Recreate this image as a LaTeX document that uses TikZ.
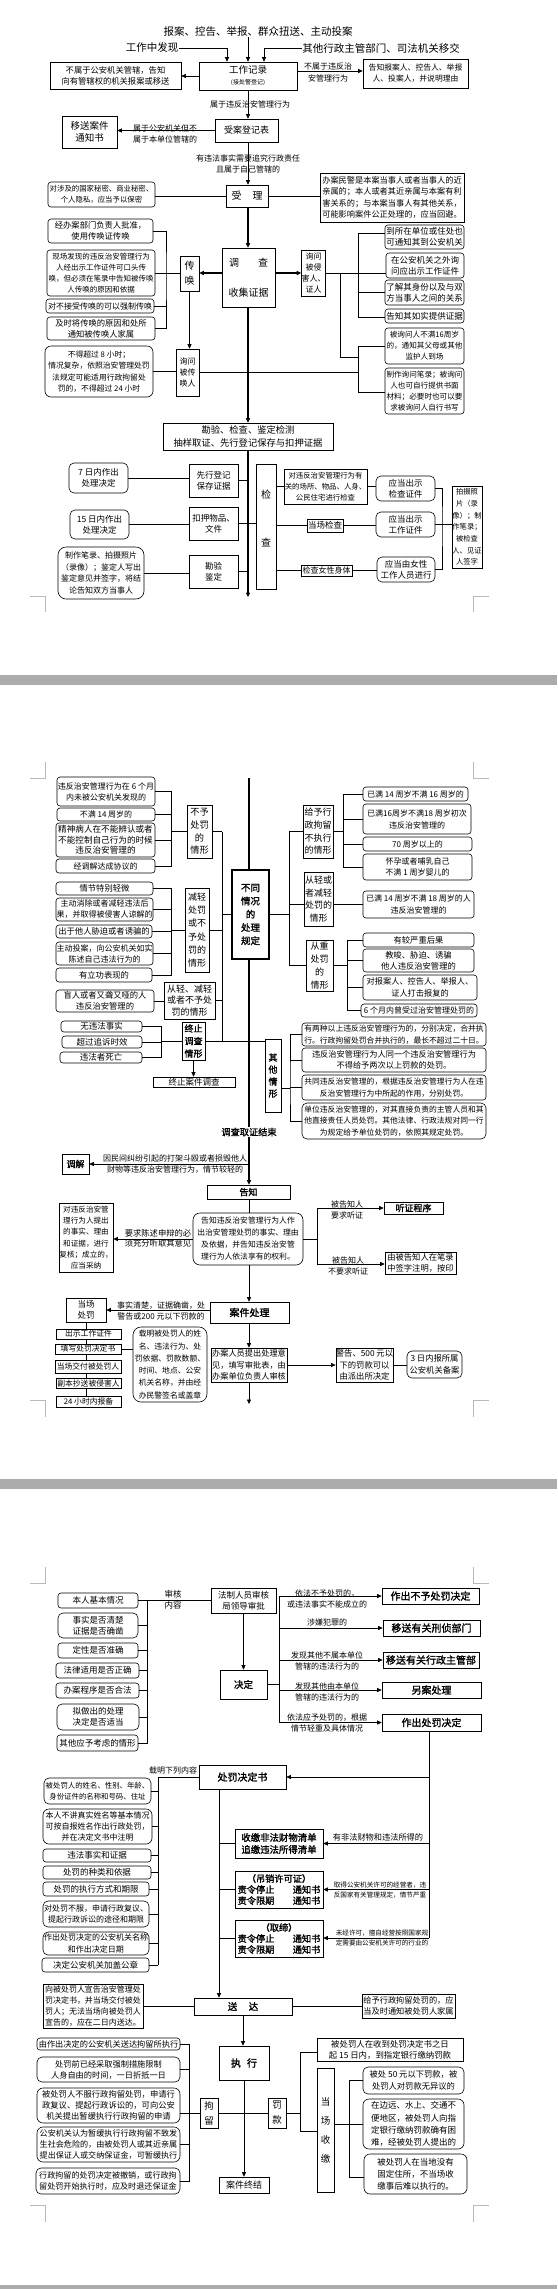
\documentclass[tikz,border=0pt]{standalone}
\usepackage{fontspec}
\setmainfont{Noto Sans CJK SC}
\newfontfamily\cjkb{Noto Sans CJK SC}[FakeBold=1.5]
\usetikzlibrary{arrows.meta}
\newcommand\FS[2]{\fontsize{#1}{#2}\selectfont}
\newcommand\FB[2]{\cjkb\fontsize{#1}{#2}\selectfont}
\newcommand\bx[7]{\node[#1, minimum width={(#5)-(#3)}, minimum height={(#6)-(#4)}] (#2) at ({((#3)+(#5))/2},{((#4)+(#6))/2}) {#7};}
\tikzset{
 sq/.style={draw, fill=white, line width=0.6pt, align=center, inner sep=0pt, font=\FS{8.5}{11}},
 rd/.style={sq, rounded corners=3pt},
 lbl/.style={align=center, inner sep=0pt, font=\FS{8}{11}},
 arr/.style={-{Triangle[length=4.5pt,width=4pt]}},
 trunk/.style={line width=1.1pt},
 crop/.style={draw=gray!55, line width=0.5pt},
 band/.style={fill=gray!65},
}
\begin{document}
\begin{tikzpicture}[x=1pt,y=-1pt,line width=0.6pt]
\useasboundingbox (0,0) rectangle (557,2289);
\fill[white] (0,0) rectangle (557,2289);
% ================= PAGE 1 =================
\node[lbl,font=\FS{10.5}{12}] (t1) at (258,32) {报案、控告、举报、群众扭送、主动投案};
\node[lbl,font=\FS{10.5}{12}] (t2) at (152,48) {工作中发现};
\node[lbl,font=\FS{10.5}{12}] (t3) at (381,48) {其他行政主管部门、司法机关移交};
\bx{sq,font=\FS{9.5}{11}}{w1}{199}{62}{297}{90}{工作记录\\{\FS{6}{7}(接处警登记)}}
\bx{sq,font=\FS{8.3}{11}}{L1}{50}{62}{181}{89}{不属于公安机关管辖，告知\\向有管辖权的机关报案或移送}
\bx{sq,font=\FS{7.8}{11}}{R1}{363}{59}{468}{88}{告知报案人、控告人、举报\\人、投案人，并说明理由}
\draw[arr] (t2.east) -| ([xshift=-21pt]w1.north);
\draw[arr] (w1.north |- t1.south) -- (w1.north);
\draw[arr] (t3.west) -| ([xshift=16pt]w1.north);
\draw[arr] (w1.west) -- (w1.west -| L1.east);
\draw[arr] ([yshift=5pt]w1.east) -- ([yshift=5pt]w1.east -| R1.west);
\node[lbl,font=\FS{8}{12}] (lb1) at (328,72) {不属于违反治\\安管理行为};
\bx{sq,font=\FS{9}{11}}{sa}{215}{119}{278}{142}{受案登记表}
\draw[arr] (w1.south) -- (w1.south |- sa.north);
\node[lbl] (lb2) at (250,104) {属于违反治安管理行为};
\bx{sq,font=\FS{9.5}{12}}{yd}{62}{116}{117}{148}{移送案件\\通知书}
\draw[arr] (sa.west) -- (sa.west -| yd.east);
\node[lbl] (lb3) at (165,133.5) {属于公安机关但不\\属于本单位管辖的};
\bx{sq,font=\FS{10}{12}}{sl}{226}{185}{268}{207}{受\hspace{1.1em}理}
\draw[arr] (w1.south |- sa.south) -- (w1.south |- sl.north);
\node[lbl] (lb4) at (248,163.5) {有违法事实需要追究行政责任\\且属于自己管辖的};
\bx{rd,font=\FS{7.4}{11}}{sm}{48}{182}{155}{207}{对涉及的国家秘密、商业秘密、\\个人隐私，应当予以保密}
\draw (sl.west) -- (sl.west -| sm.east);
\bx{sq,font=\FS{8.2}{11.5}}{hb}{320}{173}{464}{222}{办案民警是本案当事人或者当事人的近\\亲属的；本人或者其近亲属与本案有利\\害关系的；与本案当事人有其他关系，\\可能影响案件公正处理的，应当回避。}
\draw (sl.east) -- (sl.east -| hb.west);
\bx{sq,font=\FS{10}{12}}{dc}{222}{248}{275}{307}{调\hspace{1.9em}查\\[18pt]收集证据}
\draw[arr,trunk] (w1.south |- sl.south) -- (w1.south |- dc.north);
\bx{sq,font=\FS{10}{15}}{ch}{180}{256}{199}{291}{传\\唤}
\draw[arr,trunk] ([yshift=4.5pt]dc.west) -- ([yshift=4.5pt]dc.west -| ch.east);
\bx{sq,font=\FS{8}{11}}{xw}{302}{250}{325}{296}{询问\\被侵\\害人、\\证人}
\draw[arr,trunk] ([yshift=4.5pt]dc.east) -- ([yshift=4.5pt]dc.east -| xw.west);
\bx{rd,font=\FS{8.3}{11}}{c1}{48}{219}{153}{243}{经办案部门负责人批准，\\使用传唤证传唤}
\bx{rd,font=\FS{7.5}{11}}{c2}{47}{250}{155}{296}{现场发现的违反治安管理行为\\人经出示工作证件可口头传\\唤，但必须在笔录中告知被传唤\\人传唤的原因和依据}
\bx{rd,font=\FS{8}{11}}{c3}{46}{299}{154}{313}{对不接受传唤的可以强制传唤}
\bx{rd,font=\FS{8.3}{11}}{c4}{47}{317}{155}{340}{及时将传唤的原因和处所\\通知被传唤人家属}
\coordinate (chb) at (166,273);
\draw (c1.east) -| (chb) |- (c4.east);
\draw (c2.east) -- (c2.east -| ch.west);
\draw (c3.east) -- (c3.east -| chb);
\bx{sq,font=\FS{8}{11}}{bc}{176}{349}{199}{396}{询问\\被传\\唤人}
\draw[arr] (ch.south) -- (ch.south |- bc.north);
\bx{rd,rounded corners=6pt,font=\FS{7.8}{11.5}}{c5}{45}{346}{153}{397}{不得超过 8 小时；\\情况复杂，依照治安管理处罚\\法规定可能适用行政拘留处\\罚的，不得超过 24 小时}
\draw (c5.east) -- (c5.east -| bc.west);
\bx{rd}{d1}{385}{225}{464}{249}{到所在单位或住处也\\可通知其到公安机关}
\bx{rd}{d2}{386}{253}{464}{278}{在公安机关之外询\\问应出示工作证件}
\bx{rd}{d3}{385}{280}{464}{305}{了解其身份以及与双\\方当事人之间的关系}
\bx{rd}{d4}{385}{309}{464}{323}{告知其如实提供证据}
\bx{rd,font=\FS{7.6}{11}}{d5}{385}{328}{464}{364}{被询问人不满16周岁\\的，通知其父母或其他\\监护人到场}
\bx{rd,font=\FS{7.6}{11}}{d6}{385}{368}{464}{414}{制作询问笔录；被询问\\人也可自行提供书面\\材料；必要时也可以要\\求被询问人自行书写}
\coordinate (ub1) at (358,233);
\coordinate (ub4) at (358,317);
\draw (ub1) -- (ub4);
\draw (ub1) -- (ub1 -| d1.west);
\draw (xw.east) -- (xw.east -| d2.west);
\draw (d3.west) -- (d3.west -| ub1);
\draw (ub4) -- (ub4 -| d4.west);
\coordinate (mv) at (340,357);
\draw (mv |- xw.east) -- (mv) -- (mv -| ub1);
\coordinate (lbA) at (358,346);
\coordinate (lbB) at (358,392);
\draw (lbA) -- (lbB);
\draw (lbA) -- (lbA -| d5.west);
\draw (lbB) -- (lbB -| d6.west);
\draw (bc.east) -- (bc.east -| lbA);
\bx{sq,font=\FS{9.3}{13}}{kc}{163}{423}{333}{450}{勘验、检查、鉴定检测\\抽样取证、先行登记保存与扣押证据}
\draw[arr,trunk] (w1.south |- dc.south) -- (w1.south |- kc.north);
\coordinate (kend) at (248,597);
\draw[arr,trunk] (kend |- kc.south) -- (kend);
\bx{sq}{e1}{189}{464}{238}{497}{先行登记\\保存证据}
\bx{sq}{e2}{189}{507}{238}{540}{扣押物品、\\文件}
\bx{sq}{e3}{189}{555}{238}{588}{勘验\\鉴定}
\bx{rd,rounded corners=5pt}{f1}{69}{463}{128}{493}{7 日内作出\\处理决定}
\bx{rd,rounded corners=5pt}{f2}{70}{510}{129}{539}{15 日内作出\\处理决定}
\bx{rd,rounded corners=8pt,font=\FS{8}{11.5}}{f3}{58}{547}{144}{599}{制作笔录、拍摄照片\\（录像）；鉴定人写出\\鉴定意见并签字，将结\\论告知双方当事人}
\draw (f1.east) -- (f1.east -| e1.west);
\draw (e1.east) -- (e1.east -| kend);
\draw (f2.east) -- (f2.east -| e2.west);
\draw (f3.east) -- (f3.east -| e3.west);
\draw (e3.east) -- (e3.east -| kend);
\bx{sq}{jc}{256}{464}{276}{589}{}
\node[lbl,font=\FS{10}{12}] (jc1) at (266,495) {检};
\node[lbl,font=\FS{10}{12}] (jc2) at (266,543) {查};
\draw (e2.east) -- (e2.east -| jc.west);
\bx{sq,font=\FS{7.4}{11}}{g1}{284}{469}{367}{504}{对违反治安管理行为有\\关的场所、物品、人身、\\公民住宅进行检查}
\bx{rd,rounded corners=5pt}{h1}{376}{476}{435}{501}{应当出示\\检查证件}
\bx{sq}{g2}{307}{519}{343}{532}{当场检查}
\bx{rd,rounded corners=5pt}{h2}{376}{512}{435}{537}{应当出示\\工作证件}
\bx{sq,font=\FS{8}{11}}{g3}{301}{565}{352}{576}{检查女性身体}
\bx{rd,rounded corners=5pt}{h3}{377}{557}{435}{582}{应当由女性\\工作人员进行}
\draw (g1.west -| jc.east) -- (g1.west);
\draw (g1.east) -- (g1.east -| h1.west);
\draw (g2.west -| jc.east) -- (g2.west);
\draw (g2.east) -- (g2.east -| h2.west);
\draw (g3.west -| jc.east) -- (g3.west);
\draw (g3.east) -- (g3.east -| h3.west);
\coordinate (rbx) at (442,524);
\draw (h1.east) -| (rbx) |- (h3.east);
\bx{sq,font=\FS{7.3}{11.7}}{pz}{452}{486}{482}{568}{拍摄照\\片（录\\像）；制\\作笔录；\\被检查\\人、见证\\人签字}
\draw (h2.east) -- (h2.east -| pz.west);
\draw[crop] (30,596) -- (45,596) -- (45,612);
\draw[crop] (489,596) -- (473,596) -- (473,612);
\fill[band] (0,675) rectangle (557,685);
% ================= PAGE 2 =================
\draw[crop] (45,762) -- (45,778) -- (30,778);
\draw[crop] (473,762) -- (473,778) -- (489,778);
\bx{sq,line width=1.6pt,font=\FB{9.5}{13.25}}{ctr}{232}{870}{269}{959}{不同\\情况\\的\\处理\\规定}
\coordinate (cx) at (249,778);
\draw[trunk] (cx) -- (cx |- ctr.north);
\coordinate (LTa) at (222,831.5);
\coordinate (LTb) at (222,1041);
\draw (LTa) -- (LTb);
\draw (ctr.west) -- (ctr.west -| LTa);
\coordinate (RTa) at (289,831.5);
\coordinate (RTb) at (289,965.5);
\draw (RTa) -- (RTb);
\draw (ctr.east) -- (ctr.east -| RTa);
% left: 不予处罚
\bx{sq,font=\FS{9.2}{12.7}}{bz}{187}{805}{212}{858}{不予\\处罚\\的\\情形}
\draw (bz.east) -- (bz.east -| LTa);
\bx{rd,font=\FS{8}{11}}{a1}{57}{777}{155}{806}{违反治安管理行为在 6 个月\\内未被公安机关发现的}
\bx{rd,font=\FS{8}{11}}{a2}{57}{808}{155}{821}{不满 14 周岁的}
\bx{rd,font=\FS{8.6}{10.5}}{a3}{56}{823}{155}{857}{精神病人在不能辨认或者\\不能控制自己行为的时候\\违反治安管理的}
\bx{rd,font=\FS{8}{11}}{a4}{56}{859}{155}{873}{经调解达成协议的}
\draw (a1.east) -| ([xshift=-15pt]bz.west) |- (a4.east);
\draw ([xshift=-15pt]bz.west) -- (bz.west);
\draw (a2.east) -- ++(17,0);
\draw (a3.east) -- ++(17,0);
% 减轻处罚或不予处罚
\bx{sq,font=\FS{9}{13.2}}{jq}{185}{888}{209}{972}{减轻\\处罚\\或不\\予处\\罚的\\情形}
\draw (jq.east) -- (jq.east -| LTa);
\bx{rd,font=\FS{8.3}{11}}{b1}{56}{882}{153}{895}{情节特别轻微}
\bx{rd,font=\FS{8}{11}}{b2}{56}{898}{153}{921}{主动消除或者减轻违法后\\果，并取得被侵害人谅解的}
\bx{rd,font=\FS{8.3}{11}}{b3}{56}{925}{152}{938}{出于他人胁迫或者诱骗的}
\bx{rd,font=\FS{8}{11}}{b4}{56}{942}{153}{965}{主动投案，向公安机关如实\\陈述自己违法行为的}
\bx{rd,font=\FS{8.3}{11}}{b5}{56}{968}{152}{982}{有立功表现的}
\draw (b1.east) -| ([xshift=-13pt]jq.west) |- (b5.east);
\draw ([xshift=-13pt]jq.west) -- (jq.west);
\draw (b2.east) -- ++(19,0);
\draw (b3.east) -- ++(20,0);
\draw (b4.east) -- ++(19,0);
\bx{sq,font=\FS{9}{11.5}}{cq}{164}{982}{215}{1019}{从轻、减轻\\或者不予处\\罚的情形}
\draw (cq.east) -- (cq.east -| LTa);
\bx{rd,font=\FS{8.3}{11}}{b6}{56}{990}{154}{1012}{盲人或者又聋又哑的人\\违反治安管理的}
\draw (b6.east) -- (b6.east -| cq.west);
\bx{sq,font=\FB{9}{12.5}}{zz}{182}{1022}{205}{1060}{终止\\调查\\情形}
\bx{rd,font=\FS{8.5}{10}}{k1}{61}{1021}{142}{1032}{无违法事实}
\bx{rd,font=\FS{8.5}{10}}{k2}{62}{1036}{142}{1048}{超过追诉时效}
\bx{rd,font=\FS{8.5}{10}}{k3}{60}{1052}{142}{1063}{违法者死亡}
\draw (k1.east) -| ([xshift=-20pt]zz.west) |- (k3.east);
\draw ([xshift=-20pt]zz.west) -- (zz.west);
\draw (k2.east) -- ++(20,0);
\bx{sq,font=\FS{8.5}{10}}{zj}{153}{1077}{235}{1087}{终止案件调查}
\draw[arr] (zz.south) -- (zz.south |- zj.north);
% right: 给予行政拘留不执行
\bx{sq,font=\FS{9}{12.7}}{gx}{303}{805}{333}{858}{给予行\\政拘留\\不执行\\的情形}
\draw (gx.west) -- (gx.west -| RTa);
\bx{rd,font=\FS{8}{11}}{m1}{363}{787}{468}{801}{已满 14 周岁不满 16 周岁的}
\bx{rd,font=\FS{8}{12}}{m2}{363}{804}{471}{834}{已满16周岁不满18 周岁初次\\违反治安管理的}
\bx{rd,font=\FS{8}{11}}{m3}{363}{837}{472}{851}{70 周岁以上的}
\bx{rd,font=\FS{8}{11}}{m4}{363}{854}{472}{880}{怀孕或者哺乳自己\\不满 1 周岁婴儿的}
\draw (m1.west) -| ([xshift=10pt]gx.east) |- (m4.west);
\draw (gx.east) -- ++(10,0);
\draw (m2.west) -- ++(-20,0);
\draw (m3.west) -- ++(-20,0);
\bx{sq,font=\FS{9}{12.5}}{cj}{304}{872}{333}{926}{从轻或\\者减轻\\处罚的\\情形}
\bx{rd,font=\FS{8}{12}}{n1}{363}{891}{474}{918}{已满 14 周岁不满 18 周岁的人\\违反治安管理的}
\draw (RTa |- n1.west) -- (cj.west |- n1.west);
\draw (cj.east |- n1.west) -- (n1.west);
\bx{sq,font=\FS{9}{13}}{cz}{306}{940}{333}{991}{从重\\处罚\\的\\情形}
\draw (cz.west) -- (cz.west -| RTa);
\bx{rd,font=\FS{8.3}{11}}{o1}{363}{933}{474}{947}{有较严重后果}
\bx{rd,font=\FS{8.3}{11}}{o2}{363}{949}{474}{972}{教唆、胁迫、诱骗\\他人违反治安管理的}
\bx{rd,font=\FS{8.2}{12}}{o3}{363}{975}{477}{1000}{对报案人、控告人、举报人、\\证人打击报复的}
\bx{rd,font=\FS{8}{11}}{o4}{361}{1004}{477}{1017}{6 个月内曾受过治安管理处罚的}
\draw (o1.west) -| ([xshift=14pt]cz.east) |- (o4.west);
\draw (cz.east) -- ++(14,0);
\draw (o2.west) -- ++(-16,0);
\draw (o3.west) -- ++(-16,0);
% 其他情形
\bx{sq,font=\FB{9}{12}}{qt}{265}{1039}{281}{1112}{其\\他\\情\\形}
\draw (zz.east) -- (zz.east -| qt.west);
\coordinate (qtb) at (290,1088);
\bx{rd,font=\FS{7.8}{11.5}}{p1}{302}{1023}{486}{1046}{有两种以上违反治安管理行为的，分别决定，合并执\\行。行政拘留处罚合并执行的，最长不超过二十日。}
\bx{rd,font=\FS{8.2}{11.5}}{p2}{302}{1048}{486}{1072}{违反治安管理行为人同一个违反治安管理行为\\不得给予两次以上罚款的处罚。}
\bx{rd,font=\FS{7.8}{11.5}}{p3}{302}{1075}{486}{1100}{共同违反治安管理的，根据违反治安管理行为人在违\\反治安管理行为中所起的作用，分别处罚。}
\bx{rd,rounded corners=5pt,font=\FS{7.8}{11.5}}{p4}{302}{1103}{486}{1139}{单位违反治安管理的，对其直接负责的主管人员和其\\他直接责任人员处罚。其他法律、行政法规对同一行\\为规定给予单位处罚的，依照其规定处罚。}
\draw (p1.west) -| (qtb) |- (p4.west);
\draw (qtb) -- (qtb -| qt.east);
\draw (p2.west) -- ++(-12,0);
\draw (p3.west) -- ++(-12,0);
% center trunk
\node[lbl,font=\FB{9.2}{11}] (tz) at (249,1132) {调查取证结束};
\draw[trunk] (cx |- ctr.south) -- (cx |- tz.north);
\bx{sq,font=\FB{9}{11}}{gz}{207}{1185}{290}{1199}{告知}
\draw[arr,trunk] (cx |- tz.south) -- (cx |- gz.north);
\bx{sq,font=\FB{9}{11}}{tj}{62}{1154}{89}{1174}{调解}
\draw[arr] (cx |- tj.east) -- (tj.east);
\node[lbl,font=\FS{8}{10.5}] (lb5) at (175,1164) {因民间纠纷引起的打架斗殴或者损毁他人\\财物等违反治安管理行为，情节较轻的};
\bx{rd,rounded corners=7pt,font=\FS{7.8}{12}}{gzr}{193}{1213}{303}{1265}{告知违反治安管理行为人作\\出治安管理处罚的事实、理由\\及依据，并告知违反治安管\\理行为人依法享有的权利。}
\draw (cx |- gz.south) -- (cx |- gzr.north);
\bx{sq,font=\FS{7.6}{11.3}}{fh}{59}{1203}{113}{1272}{对违反治安管\\理行为人提出\\的事实、理由\\和证据，进行\\复核；成立的，\\应当采纳}
\draw[arr] (gzr.west) -- (gzr.west -| fh.east);
\node[lbl,font=\FS{8.3}{10.5}] (lb6) at (158,1238.5) {要求陈述申辩的必\\须充分听取其意见};
\coordinate (tzv1) at (317,1208);
\coordinate (tzv2) at (317,1264);
\draw (tzv1) -- (tzv2);
\draw (gzr.east) -- (gzr.east -| tzv1);
\bx{sq,font=\FB{9}{11}}{tzc}{384}{1202}{443}{1214}{听证程序}
\draw[arr] (tzv1) -- (tzv1 -| tzc.west);
\node[lbl] (lb7) at (347,1209.5) {被告知人\\要求听证};
\bx{sq,font=\FS{8.3}{11}}{yb}{385}{1252}{456}{1274}{由被告知人在笔录\\中签字注明，按印}
\draw[arr] (tzv2) -- (tzv2 -| yb.west);
\node[lbl] (lb8) at (348,1266) {被告知人\\不要求听证};
\bx{sq,font=\FB{10}{12}}{aj}{210}{1302}{289}{1323}{案件处理}
\draw[arr] (cx |- gzr.south) -- (cx |- aj.north);
\bx{sq}{dcf}{66}{1298}{106}{1322}{当场\\处罚}
\draw[arr] (aj.west |- dcf.east) -- (dcf.east);
\node[lbl] (lb9) at (161,1310.5) {事实清楚，证据确凿，处\\警告或200 元以下罚款的};
\bx{sq,font=\FS{7.8}{9}}{s1}{56}{1329}{121}{1339}{出示工作证件}
\bx{sq,font=\FS{7.8}{9}}{s2}{55}{1344}{121}{1354}{填写处罚决定书}
\bx{sq,font=\FS{7.8}{9}}{s3}{55}{1360}{121}{1373}{当场交付被处罚人}
\bx{sq,font=\FS{7.8}{9}}{s4}{56}{1378}{121}{1388}{副本抄送被侵害人}
\bx{sq,font=\FS{7.8}{9}}{s5}{56}{1396}{121}{1407}{24 小时内报备}
\draw (dcf.south) -- (dcf.south |- s1.north);
\draw (dcf.south |- s1.south) -- (dcf.south |- s2.north);
\draw (dcf.south |- s2.south) -- (dcf.south |- s3.north);
\draw (dcf.south |- s3.south) -- (dcf.south |- s4.north);
\draw (dcf.south |- s4.south) -- (dcf.south |- s5.north);
\bx{rd,rounded corners=8pt,font=\FS{7.8}{12.3}}{zm}{133}{1327}{207}{1402}{载明被处罚人的姓\\名、违法行为、处\\罚依据、罚款数额、\\时间、地点、公安\\机关名称，并由经\\办民警签名或盖章}
\draw (s2.east) -- (s2.east -| zm.west);
\bx{sq,font=\FS{8.2}{11.3}}{bp}{211}{1348}{287}{1382}{办案人员提出处理意\\见，填写审批表，由\\办案单位负责人审核}
\draw[arr] (cx |- aj.south) -- (cx |- bp.north);
\bx{sq,font=\FS{8.3}{11.3}}{jg}{337}{1348}{392}{1382}{警告、500 元以\\下的罚款可以\\由派出所决定}
\draw[arr] (bp.east) -- (bp.east -| jg.west);
\bx{rd,rounded corners=5pt,font=\FS{8.3}{11.5}}{sr}{407}{1351}{462}{1378}{3 日内报所属\\公安机关备案}
\draw (jg.east) -- (jg.east -| sr.west);
\coordinate (bpend) at (249,1404);
\draw[arr] (cx |- bp.south) -- (bpend);
\draw[crop] (30,1400) -- (45,1400) -- (45,1417);
\draw[crop] (489,1400) -- (473,1400) -- (473,1417);
\fill[band] (0,1479) rectangle (557,1489);
% ================= PAGE 3 =================
\draw[crop] (45,1567) -- (45,1583) -- (30,1583);
\draw[crop] (473,1567) -- (473,1583) -- (489,1583);
\bx{rd}{q1}{58}{1593}{138}{1608}{本人基本情况}
\bx{rd,rounded corners=5pt}{q2}{58}{1613}{138}{1638}{事实是否清楚\\证据是否确凿}
\bx{rd}{q3}{58}{1643}{138}{1658}{定性是否准确}
\bx{rd}{q4}{56}{1663}{139}{1678}{法律适用是否正确}
\bx{rd}{q5}{56}{1683}{139}{1698}{办案程序是否合法}
\bx{rd,rounded corners=5pt}{q6}{57}{1704}{139}{1730}{拟做出的处理\\决定是否适当}
\bx{rd}{q7}{57}{1735}{138}{1751}{其他应予考虑的情形}
\draw (q1.east) -| ([xshift=9pt]q7.east) -- (q7.east);
\draw (q2.east) -- ++(9,0);
\draw (q3.east) -- ++(9,0);
\draw (q4.east) -- ++(8,0);
\draw (q5.east) -- ++(8,0);
\draw (q6.east) -- ++(8,0);
\bx{sq}{fz}{211}{1588}{276}{1613}{法制人员审核\\局领导审批}
\draw (q1.east) -- (q1.east -| fz.west);
\node[lbl,font=\FS{8.5}{11}] (lb10) at (173,1600) {审核\\内容};
\bx{sq,font=\FB{9.5}{11}}{jd}{220}{1670}{267}{1699}{决定}
\draw[arr] (fz.south) -- (fz.south |- jd.north);
\bx{sq,font=\FB{10}{12}}{r1}{382}{1588}{479}{1604}{作出不予处罚决定}
\bx{sq,font=\FB{10}{12}}{r2}{383}{1620}{480}{1636}{移送有关刑侦部门}
\bx{sq,font=\FB{10}{12}}{r3}{383}{1652}{479}{1668}{移送有关行政主管部}
\bx{sq,font=\FB{10}{12}}{r4}{382}{1682}{481}{1698}{另案处理}
\bx{sq,font=\FB{10}{12}}{r5}{382}{1714}{481}{1731}{作出处罚决定}
\coordinate (jv1) at (279,1596);
\coordinate (jv2) at (279,1722.5);
\draw (jv1) -- (jv2);
\draw (jd.east) -- (jd.east -| jv1);
\draw[arr] (jv1) -- (jv1 -| r1.west);
\draw[arr] (jv1 |- r2.west) -- (r2.west);
\draw[arr] (jv1 |- r3.west) -- (r3.west);
\draw[arr] (jv1 |- r4.west) -- (r4.west);
\draw[arr] (jv2) -- (jv2 -| r5.west);
\node[lbl] (lb11) at (327,1599) {依法不予处罚的，\\或违法事实不能成立的};
\node[lbl] (lb12) at (327,1622) {涉嫌犯罪的};
\node[lbl] (lb13) at (327,1661) {发现其他不属本单位\\管辖的违法行为的};
\node[lbl] (lb14) at (327,1691.5) {发现其他由本单位\\管辖的违法行为的};
\node[lbl] (lb15) at (327,1722.5) {依法应予处罚的，根据\\情节轻重及具体情况};
\bx{sq,font=\FB{10}{12}}{cfs}{199}{1765}{286}{1789}{处罚决定书}
\coordinate (rv) at (429,1938);
\draw (rv |- r5.south) -- (rv);
\draw[arr] (rv |- cfs.east) -- (cfs.east);
\node[lbl] (lb16) at (173,1770) {载明下列内容};
\coordinate (cv) at (158,1965);
\draw (cfs.west) -| (cv);
\bx{rd,rounded corners=5pt,font=\FS{7.4}{11}}{u1}{44}{1778}{151}{1804}{被处罚人的姓名、性别、年龄、\\身份证件的名称和号码、住址}
\bx{rd,rounded corners=6pt,font=\FS{8}{11}}{u2}{43}{1809}{152}{1844}{本人不讲真实姓名等基本情况\\可按自报姓名作出行政处罚，\\并在决定文书中注明}
\bx{rd}{u3}{43}{1849}{151}{1862}{违法事实和证据}
\bx{rd}{u4}{43}{1866}{151}{1879}{处罚的种类和依据}
\bx{rd}{u5}{43}{1882}{149}{1896}{处罚的执行方式和期限}
\bx{rd,rounded corners=5pt,font=\FS{8}{11.5}}{u6}{43}{1901}{149}{1927}{对处罚不服，申请行政复议、\\提起行政诉讼的途径和期限}
\bx{rd,rounded corners=5pt,font=\FS{8}{11.5}}{u7}{43}{1932}{149}{1955}{作出处罚决定的公安机关名称\\和作出决定日期}
\bx{rd}{u8}{42}{1958}{149}{1972}{决定公安机关加盖公章}
\draw (u1.east) -- (u1.east -| cv);
\draw (u2.east) -- (u2.east -| cv);
\draw (u3.east) -- (u3.east -| cv);
\draw (u4.east) -- (u4.east -| cv);
\draw (u5.east) -- (u5.east -| cv);
\draw (u6.east) -- (u6.east -| cv);
\draw (u7.east) -- (u7.east -| cv);
\draw (u8.east) -- (u8.east -| cv);
\coordinate (sv) at (219,1990);
\bx{sq,font=\FB{9.5}{11}}{sd}{194}{1998}{292}{2015}{送\hspace{1.2em}达}
\draw[arr] (sv |- cfs.south) -- (sv |- sd.north);
\bx{sq,font=\FB{9.4}{12}}{v1}{235}{1829}{323}{1858}{收缴非法财物清单\\追缴违法所得清单}
\bx{sq,font=\FB{9.2}{11}}{v2}{235}{1871}{323}{1908}{（吊销许可证）\\责令停止\hspace{2em}通知书\\责令限期\hspace{2em}通知书}
\bx{sq,font=\FB{9.2}{11}}{v3}{235}{1920}{323}{1957}{（取缔）\\责令停止\hspace{2em}通知书\\责令限期\hspace{2em}通知书}
\draw (sv |- v1.west) -- (v1.west);
\draw (sv |- v2.west) -- (v2.west);
\draw (sv |- v3.west) -- (v3.west);
\draw[arr] (rv |- v1.east) -- (v1.east);
\node[lbl,font=\FS{8.2}{10}] (lb17) at (378,1837) {有非法财物和违法所得的};
\draw[arr] (rv |- v2.east) -- (v2.east);
\node[lbl,font=\FS{6.6}{10}] (lb18) at (380,1890) {取得公安机关许可的经营者，违\\反国家有关管理规定，情节严重};
\draw[arr] (rv) -- (rv -| v3.east);
\node[lbl,font=\FS{6.6}{10}] (lb19) at (382,1938) {未经许可，擅自经营按照国家规\\定需要由公安机关许可的行业的};
\bx{sq,font=\FS{8}{11}}{sx}{43}{1984}{143}{2028}{向被处罚人宣告治安管理处\\罚决定书，并当场交付被处\\罚人；无法当场向被处罚人\\宣告的，应在二日内送达。}
\draw (sd.west) -- (sd.west -| sx.east);
\bx{sq,font=\FS{8.2}{11}}{sy}{362}{1994}{455}{2018}{给予行政拘留处罚的，应\\当及时通知被处罚人家属}
\draw (sd.east) -- (sd.east -| sy.west);
\bx{sq,font=\FB{10}{12}}{zx}{219}{2046}{269}{2080}{执\hspace{0.6em}行}
\draw[arr] (sd.south) -- (sd.south |- zx.north);
\bx{sq,font=\FS{9}{11}}{ajz}{219}{2177}{269}{2193}{案件终结}
\draw[arr] (zx.south) -- (ajz.north);
\bx{sq,font=\FS{9.5}{15}}{jl}{200}{2098}{218}{2128}{拘\\留}
\bx{sq,font=\FS{9.5}{15}}{fk}{268}{2098}{286}{2128}{罚\\款}
\draw (jl.east) -- (fk.west);
\bx{rd,font=\FS{8.2}{11}}{j1}{37}{2038}{180}{2050}{由作出决定的公安机关送达拘留所执行}
\bx{rd,rounded corners=5pt,font=\FS{8.2}{11}}{j2}{37}{2057}{180}{2082}{处罚前已经采取强制措施限制\\人身自由的时间，一日折抵一日}
\bx{rd,rounded corners=6pt,font=\FS{8.3}{11.3}}{j3}{37}{2088}{180}{2123}{被处罚人不服行政拘留处罚，申请行\\政复议、提起行政诉讼的，可向公安\\机关提出暂缓执行行政拘留的申请}
\bx{rd,rounded corners=6pt,font=\FS{8.1}{11.3}}{j4}{37}{2127}{180}{2162}{公安机关认为暂缓执行行政拘留不致发\\生社会危险的，由被处罚人或其近亲属\\提出保证人或交纳保证金，可暂缓执行}
\bx{rd,rounded corners=5pt,font=\FS{8.1}{11}}{j5}{36}{2168}{180}{2194}{行政拘留的处罚决定被撤销，或行政拘\\留处罚开始执行时，应及时退还保证金}
\coordinate (jb2) at (189,2181);
\draw (j1.east) -| (jb2) -- (jb2 -| j5.east);
\draw (j2.east) -- ++(9,0);
\draw (j4.east) -- ++(9,0);
\draw (jl.west) -- (jl.west -| j3.east);
\bx{sq,font=\FS{8.4}{11}}{yh}{317}{2038}{463}{2061}{被处罚人在收到处罚决定书之日\\起 15 日内，到指定银行缴纳罚款}
\bx{sq,font=\FS{9.5}{19}}{dcs}{317}{2068}{334}{2192}{当\\场\\收\\缴}
\coordinate (fv1) at (300,2052);
\coordinate (fv2) at (300,2131);
\draw (fv1) -- (fv2);
\draw (fk.east) -- (fk.east -| fv1);
\draw (fv1) -- (fv1 -| yh.west);
\draw (fv2) -- (fv2 -| dcs.west);
\bx{rd,rounded corners=5pt,font=\FS{8.3}{11.5}}{x1}{363}{2067}{464}{2094}{被处 50 元以下罚款，被\\处罚人对罚款无异议的}
\bx{rd,rounded corners=6pt,font=\FS{8.5}{12.3}}{x2}{363}{2099}{464}{2149}{在边远、水上、交通不\\便地区，被处罚人向指\\定银行缴纳罚款确有困\\难，经被处罚人提出的}
\bx{rd,rounded corners=6pt,font=\FS{8.5}{12}}{x3}{364}{2154}{467}{2194}{被处罚人在当地没有\\固定住所，不当场收\\缴事后难以执行的。}
\coordinate (xb2) at (349,2177);
\draw (x1.west) -| (xb2) -- (xb2 -| x3.west);
\coordinate (xbm) at (349,2124);
\draw (xbm -| dcs.east) -- (xbm -| x2.west);
\draw[crop] (30,2205) -- (45,2205) -- (45,2222);
\draw[crop] (489,2205) -- (473,2205) -- (473,2222);
\fill[band] (0,2285) rectangle (557,2289);
\end{tikzpicture}
\end{document}
